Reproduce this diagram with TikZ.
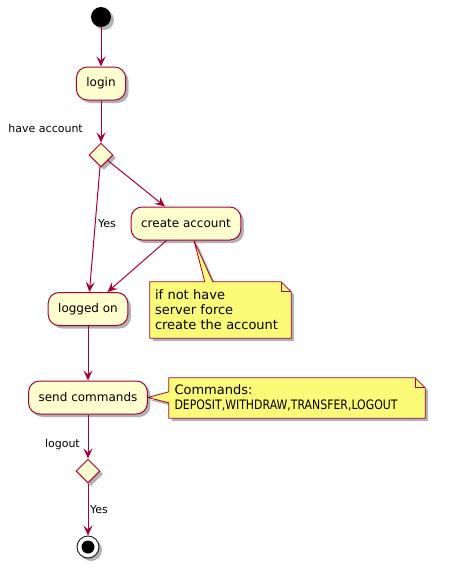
\documentclass[tikz,border=0pt]{standalone}
\usepackage{fontspec}
\setmainfont{DejaVu Sans}
\usetikzlibrary{shapes.geometric,arrows.meta,shadows,calc,backgrounds}
\definecolor{umlred}{HTML}{A80036}
\definecolor{umlfill}{HTML}{FEFECE}
\definecolor{notefill}{HTML}{FBFB77}
\begin{document}
\begin{tikzpicture}[x=1pt,y=-1pt,
  shad/.style={drop shadow={shadow xshift=3pt,shadow yshift=-3pt,opacity=0.3,fill=black}},
  act/.style={draw=umlred,fill=umlfill,line width=1pt,rounded corners=11pt,minimum height=33pt,inner xsep=10pt,font=\fontsize{12}{14}\selectfont,shad},
  dec/.style={diamond,draw=umlred,fill=umlfill,line width=1pt,minimum width=24pt,minimum height=24pt,inner sep=0pt,shad},
  lbl/.style={font=\fontsize{11}{13}\selectfont,inner sep=0pt},
  flow/.style={draw=umlred,line width=1pt,-{Stealth[length=10pt,width=9pt,inset=4pt]}},
  notebox/.style={draw=none,inner xsep=5pt,inner ysep=0pt,align=left,font=\fontsize{13}{15}\selectfont},
  noteshape/.style={draw=umlred,fill=notefill,line width=0.8pt,shad},
  notefold/.style={draw=umlred,line width=0.8pt}
]
\useasboundingbox (0,0) rectangle (458,568);

% nodes
\node[circle,fill=black,minimum size=20pt,inner sep=0pt,shad] (start) at (101,17) {};
\node[act] (login) at (101,83.5) {login};
\node[dec] (d1) at (101,155) {};
\node[act] (ca) at (186,223.5) {create account};
\node[act] (lo) at (88,309) {logged on};
\node[act] (sc) at (88,397.5) {send commands};
\node[dec] (d2) at (88,471) {};
\node[circle,draw=black!85,fill=white,line width=1pt,minimum size=22pt,inner sep=0pt,shad] (end) at (88,547) {};
\node[circle,fill=black,minimum size=13pt,inner sep=0pt] (endin) at (end) {};

% labels
\node[lbl,anchor=east] (lhave) at (83,128) {have account};
\node[lbl,anchor=west] (lyes1) at (98,224) {Yes};
\node[lbl,anchor=east] (llogout) at (80,444) {logout};
\node[lbl,anchor=west] (lyes2) at (90,510) {Yes};

% notes
\node[notebox,text width=131pt,minimum width=141pt,minimum height=56pt] (n1) at (220.5,310) {if not have\\server force\\create the account};
\node[notebox,text width=245pt,minimum width=256pt,minimum height=40pt,inner xsep=5.5pt] (n2) at (297,398) {Commands:\\\scalebox{0.84}[1]{DEPOSIT,WITHDRAW,TRANSFER,LOGOUT}};
\begin{scope}[on background layer]
\path[noteshape] (n1.north west) -- ($(n1.north west)+(55,0)$) -- ($(ca.south)+(8,0)$) -- ($(n1.north west)+(63,0)$) -- ($(n1.north east)+(-10,0)$) -- ($(n1.north east)+(0,10)$) -- (n1.south east) -- (n1.south west) -- cycle;
\draw[notefold] ($(n1.north east)+(-10,0)$) -- ($(n1.north east)+(-10,10)$) -- ($(n1.north east)+(0,10)$);
\path[noteshape] (n2.north west) -- ($(n2.north east)+(-10,0)$) -- ($(n2.north east)+(0,10)$) -- (n2.south east) -- (n2.south west) -- ($(n2.north west)+(0,25)$) -- (sc.east) -- ($(n2.north west)+(0,14)$) -- cycle;
\draw[notefold] ($(n2.north east)+(-10,0)$) -- ($(n2.north east)+(-10,10)$) -- ($(n2.north east)+(0,10)$);
\end{scope}

% connectors
\draw[flow] (start) -- (login);
\draw[flow] (login) -- (d1);
\draw[flow] (d1) -- (ca);
\draw[flow] (d1) -- (lo);
\draw[flow] (ca) -- (lo);
\draw[flow] (lo) -- (sc);
\draw[flow] (sc) -- (d2);
\draw[flow] (d2) -- (end);
\end{tikzpicture}
\end{document}
